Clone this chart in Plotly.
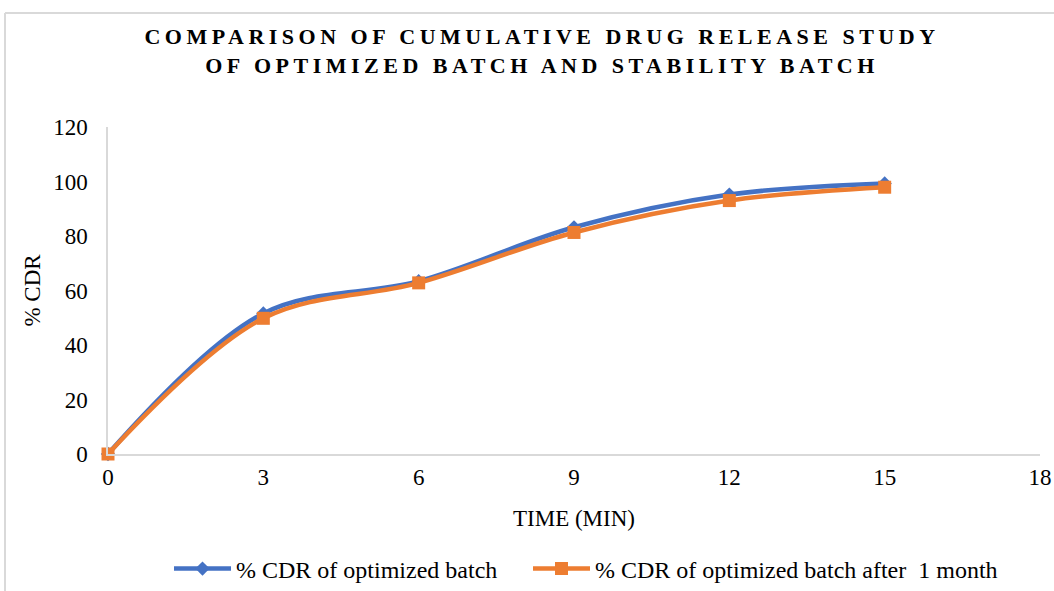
import plotly.graph_objects as go

# Dissolution time points (min) and cumulative drug release (%)
time_min = [0, 3, 6, 9, 12, 15]
cdr_optimized = [0, 51.6, 63.4, 83.2, 95.2, 99.3]
cdr_after_month = [0, 49.8, 62.8, 81.3, 93.0, 97.9]

series_names = ["% CDR of optimized batch", "% CDR of optimized batch after  1 month"]
x_ticks = [0, 3, 6, 9, 12, 15, 18]
y_ticks = [0, 20, 40, 60, 80, 100, 120]

FONT = "Liberation Serif, Times New Roman, serif"
BLUE = "#4472C4"
ORANGE = "#ED7D31"
GRID = "#D9D9D9"

W, H = 1054, 591
L, R, T, B = 108, 14, 127, 137

fig = go.Figure()
fig.add_trace(go.Scatter(
    x=time_min, y=cdr_optimized, name=series_names[0], mode="lines+markers",
    line=dict(color=BLUE, width=4.5, shape="spline", smoothing=1),
    marker=dict(symbol="diamond", size=11, color=BLUE),
    cliponaxis=False, legend="legend",
))
fig.add_trace(go.Scatter(
    x=time_min, y=cdr_after_month, name=series_names[1], mode="lines+markers",
    line=dict(color=ORANGE, width=4.5, shape="spline", smoothing=1),
    marker=dict(symbol="square", size=13, color=ORANGE),
    cliponaxis=False, legend="legend2",
))

# chart frame: top and left border lines
pw, ph = W - L - R, H - T - B
fx0 = (5 - L) / pw
fy1 = (H - B - 13) / ph
frame = dict(color=GRID, width=2)
fig.add_shape(type="line", xref="paper", yref="paper",
              x0=fx0, x1=1.2, y0=fy1, y1=fy1, line=frame, layer="below")
fig.add_shape(type="line", xref="paper", yref="paper",
              x0=fx0, x1=fx0, y0=-0.6, y1=fy1, line=frame, layer="below")

legend_common = dict(
    orientation="h", xref="container", yref="container",
    xanchor="left", y=1 - 569 / H, yanchor="middle",
    font=dict(size=24), itemwidth=57, bgcolor="rgba(0,0,0,0)",
)

fig.update_layout(
    width=W, height=H,
    margin=dict(l=L, r=R, t=T, b=B, autoexpand=False),
    paper_bgcolor="white", plot_bgcolor="white",
    font=dict(family=FONT, size=23, color="#000000"),
    title=dict(
        text="COMPARISON OF CUMULATIVE DRUG RELEASE STUDY<br>OF OPTIMIZED BATCH AND STABILITY BATCH",
        font=dict(family=FONT, size=22, color="#000000", weight="bold"),
        xref="container", x=542 / W, xanchor="center",
        yref="container", y=1 - 44 / H, yanchor="middle",
    ),
    xaxis=dict(
        range=[0, 18], tickvals=x_ticks, ticktext=[str(v) for v in x_ticks],
        showgrid=False, zeroline=False, showline=True, linecolor=GRID, linewidth=1.5,
        ticks="", ticklabelstandoff=2, automargin=False,
        title=dict(text="TIME (MIN)", standoff=21, font=dict(size=23)),
    ),
    yaxis=dict(
        range=[0, 120], tickvals=y_ticks, ticktext=[str(v) for v in y_ticks],
        showgrid=False, zeroline=False, showline=True, linecolor=GRID, linewidth=1.5,
        ticks="", ticklabelstandoff=14, automargin=False,
        title=dict(text="% CDR", standoff=6, font=dict(size=23)),
    ),
    legend=dict(legend_common, x=169 / W),
    legend2=dict(legend_common, x=528 / W),
    showlegend=True,
)

# Excel-style expanded character spacing for the chart title
post = """
var t = document.querySelectorAll('.gtitle');
t.forEach(function(el){ el.style.letterSpacing = '4.5px'; });
"""
fig.write_html("out.html", post_script=post)
